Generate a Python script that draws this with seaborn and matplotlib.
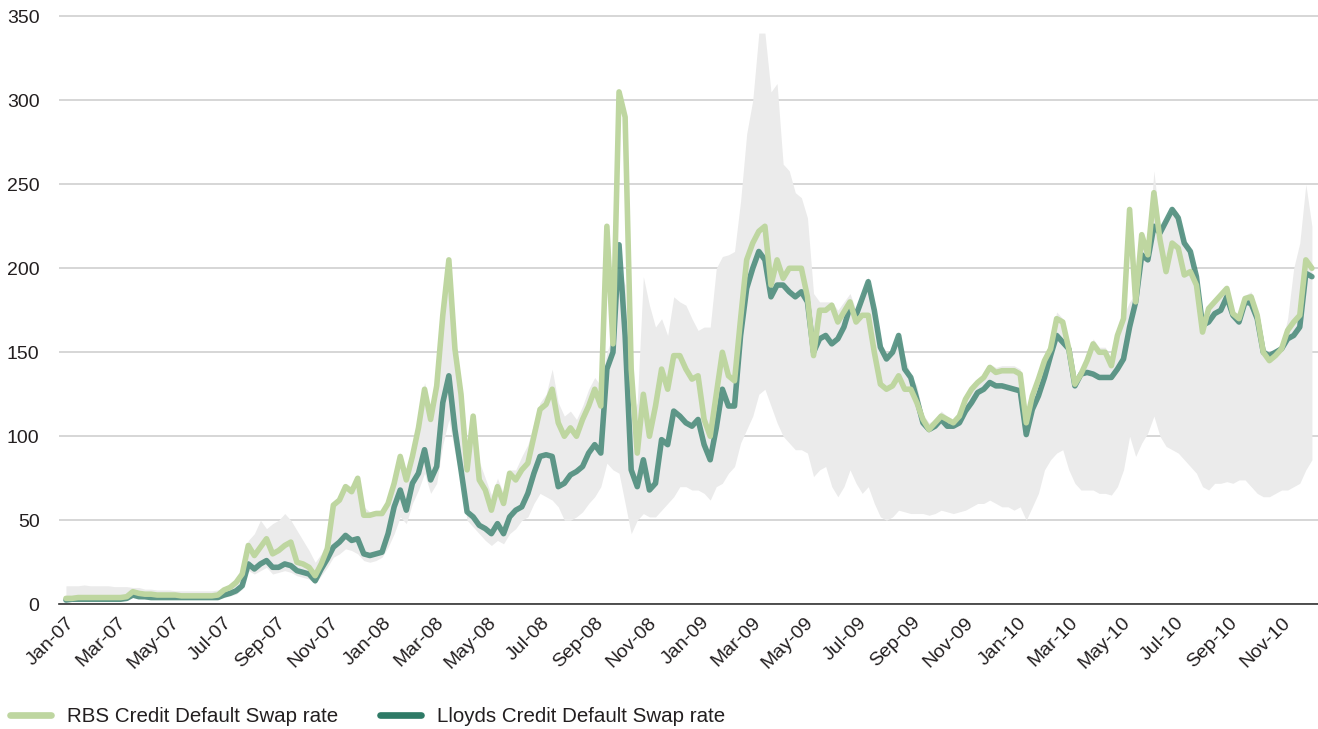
import pandas as pd
import matplotlib
matplotlib.use('Agg')
import matplotlib.pyplot as plt
import matplotlib.dates as mdates
from matplotlib.lines import Line2D
import seaborn as sns

# weekly observations, Jan 2007 - Dec 2010
weeks = pd.date_range('2007-01-01', periods=206, freq='7D')

rbs_name = 'RBS Credit Default Swap rate'
lloyds_name = 'Lloyds Credit Default Swap rate'

rbs = [3.5, 3.5, 4, 4, 4, 4, 4, 4, 4, 4, 4.5, 7.5, 6.5, 6, 6, 5.5, 5.5, 5.5, 5.5, 5, 5, 5, 5, 5, 5, 5.5,
       8.5, 10, 13, 18, 35, 29, 34, 39, 30, 32, 35, 37, 25, 24, 22, 17, 24, 33, 59, 62, 70, 67, 75, 53, 53, 54, 54,
       60, 72, 88, 74, 88, 105, 128, 110, 130, 172, 205, 152, 125, 80, 112, 74, 68, 56, 70, 60, 78, 74, 80, 84,
       100, 116, 119, 128, 108, 100,
       105, 100, 110, 118, 128, 118, 225, 155, 305, 290, 140, 90, 125, 100, 118, 140, 128, 148, 148, 140, 134,
       136, 110, 100, 125, 150, 136, 133, 170, 205,
       215, 222, 225, 190, 205, 194, 200, 200, 200, 183, 148, 175, 175, 178, 168, 174, 180, 168, 172, 172, 150,
       131, 128, 130, 136, 128, 128, 120,
       110, 104, 108, 112, 110, 108, 112, 122, 128, 132, 135, 141, 138, 139, 139, 139, 137, 108, 124, 134, 145,
       152, 170, 168, 152, 131,
       137, 145, 155, 150, 150, 142, 160, 170, 235, 180, 220, 208, 245, 217, 198, 215, 212, 196, 198, 190, 162,
       176, 180, 184, 188, 173, 170, 182, 183, 172, 150, 145, 148, 152, 163, 168, 172, 205, 200]

lloyds = [2.5, 3, 3, 3, 3, 3, 3, 3, 3, 3, 3.5, 5.5, 4.5, 4.5, 4, 4, 4, 4, 4, 4, 4, 4, 4, 4, 4, 4,
          5.5, 6.5, 8, 11, 24, 21, 24, 26, 22, 22, 24, 23, 20, 19, 18, 14, 21, 27, 34, 37, 41, 38, 39, 30, 29, 30, 31,
          42, 58, 68, 56, 72, 78, 92, 74, 82, 120, 136, 104, 80, 55, 52, 47, 45, 42, 48, 42, 52, 56, 58, 66, 78,
          88, 89, 88, 70, 72,
          77, 79, 82, 90, 95, 90, 140, 150, 214, 160, 80, 70, 86, 68, 72, 98, 95, 115, 112, 108, 106, 110, 95, 86,
          105, 128, 118, 118, 160, 188,
          200, 210, 205, 183, 190, 190, 186, 183, 186, 180, 150, 158, 160, 155, 158, 165, 177, 172, 182, 192, 175,
          153, 146, 150, 160, 140, 135, 122,
          108, 104, 106, 110, 106, 106, 108, 115, 120, 126, 128, 132, 130, 130, 129, 128, 127, 101, 116, 124, 135,
          148, 160, 156, 152, 130,
          137, 138, 137, 135, 135, 135, 140, 146, 165, 180, 208, 205, 225, 221, 228, 235, 230, 215, 210, 195, 166,
          168, 173, 175, 183, 172, 168, 180, 179, 170, 150, 148, 150, 152, 158, 160, 165, 197, 195]

# grey range of the other banks
band_low = [2, 2, 2, 2, 2, 2, 2, 2, 2, 2, 2.5, 4, 3.5, 3, 3, 3, 3, 3, 3, 3, 3, 3, 3, 3, 3, 3,
            4, 5, 6, 9, 20, 18, 20, 22, 18, 19, 20, 19, 17, 16, 15, 12, 17, 22, 28, 30, 33, 32, 30, 26, 25, 26, 28,
            34, 42, 52, 48, 60, 68, 78, 66, 72, 95, 110, 90, 72, 50, 46, 42, 38, 35, 38, 36, 42, 45, 50, 52, 60,
            66, 64, 62, 58, 50,
            50, 52, 55, 60, 64, 70, 84, 80, 78, 60, 42, 50, 54, 52, 52, 56, 60, 64, 70, 70, 68, 68, 66, 62, 70, 72,
            78, 82, 96, 104,
            112, 125, 128, 118, 108, 100, 96, 92, 92, 90, 76, 80, 82, 70, 64, 70, 80, 72, 66, 70, 60, 52, 50, 52,
            56, 55, 54, 54,
            54, 53, 54, 56, 55, 54, 55, 56, 58, 60, 60, 62, 60, 58, 58, 56, 58, 50, 58, 66, 80, 86, 90, 92, 80, 72,
            68, 68, 68, 66, 66, 65, 70, 80, 100, 88, 96, 102, 112, 100, 94, 92, 90, 86, 82, 78, 70, 68, 72, 72, 73,
            72, 74, 74, 70, 66, 64, 64, 66, 68, 68, 70, 72, 80, 86]

band_high = [11, 11, 11, 11.5, 11, 11, 11, 11, 10.5, 10.5, 10.5, 10, 10, 9, 9, 8.5, 8.5, 8.5, 8, 8, 8, 8, 8, 8, 8, 8.5,
             10, 12, 15, 20, 38, 42, 50, 45, 48, 50, 54, 50, 44, 38, 32, 25, 30, 38, 60, 65, 72, 70, 76, 58, 55, 56, 56,
             62, 75, 90, 78, 92, 110, 132, 115, 132, 170, 195, 150, 125, 90, 110, 85, 75, 65, 75, 66, 80, 80, 88,
             95, 108, 120, 125, 140, 120, 112,
             115, 110, 118, 128, 135, 130, 150, 160, 200, 190, 110, 120, 195, 178, 165, 170, 160, 183, 180, 178, 170,
             163, 165, 165, 200, 207, 208, 210, 240, 280,
             300, 340, 340, 305, 310, 262, 258, 245, 242, 230, 185, 180, 180, 180, 175, 180, 185, 175, 185, 195, 178,
             156, 150, 152, 162, 148, 136, 130,
             113, 108, 110, 115, 112, 110, 114, 124, 130, 134, 137, 143, 141, 142, 142, 142, 140, 112, 127, 137, 148,
             156, 174, 170, 156, 134,
             140, 148, 158, 153, 153, 146, 163, 172, 180, 185, 222, 210, 258, 225, 230, 237, 233, 218, 212, 197, 168,
             178, 182, 186, 190, 175, 172, 184, 186, 174, 153, 150, 152, 155, 170, 200, 215, 250, 225]

rbs_col = '#bed6a0'
lloyds_col = '#2e7a66'

df = pd.DataFrame({'date': weeks, 'RBS': rbs, 'Lloyds': lloyds})

sns.set_style('white')
plt.rcParams['font.family'] = ['Liberation Sans', 'DejaVu Sans']
text_col = '#231f20'

fig = plt.figure(figsize=(13.18, 7.29), dpi=100)
ax = fig.add_axes([59 / 1318, 0.1711, 1 - 59 / 1318, 0.9823 - 0.1711])

ax.fill_between(weeks, band_low, band_high, color='#ebebeb', lw=0, zorder=1)
sns.lineplot(data=df, x='date', y='Lloyds', color=lloyds_col, alpha=0.75, linewidth=4.0, ax=ax, zorder=3)
sns.lineplot(data=df, x='date', y='RBS', color=rbs_col, linewidth=4.0, ax=ax, zorder=4)

ax.set_xlim(pd.Timestamp('2006-12-24'), pd.Timestamp('2010-12-13'))
ax.set_ylim(0, 352)
ax.set_yticks(range(0, 351, 50))
ax.yaxis.grid(True, color='#cccccc', lw=1.1, zorder=0)
ax.set_axisbelow(True)
ax.set_xlabel('')
ax.set_ylabel('')

for s in ['left', 'top', 'right']:
    ax.spines[s].set_visible(False)
ax.spines['bottom'].set_color('#333333')
ax.spines['bottom'].set_linewidth(1.2)

ax.xaxis.set_major_locator(mdates.MonthLocator(bymonth=[1, 3, 5, 7, 9, 11]))
ax.xaxis.set_minor_locator(mdates.MonthLocator())
ax.xaxis.set_major_formatter(mdates.DateFormatter('%b-%y'))
ax.tick_params(axis='x', which='both', direction='out', length=4, width=1, color='#333333',
               labelsize=14, labelcolor=text_col, pad=3)
ax.tick_params(axis='y', length=0, labelsize=14, labelcolor=text_col, pad=14)
plt.setp(ax.get_xticklabels(), rotation=45, ha='right', rotation_mode='anchor')

handles = [Line2D([0], [0], color=rbs_col, lw=4.8, solid_capstyle='round'),
           Line2D([0], [0], color=lloyds_col, lw=4.8, solid_capstyle='round')]
fig.legend(handles, [rbs_name, lloyds_name], loc='center left', bbox_to_anchor=(0.0, 1 - 717 / 729),
           ncol=2, frameon=False, fontsize=14.8, handlelength=2.0, handletextpad=0.78,
           columnspacing=2.0, borderpad=0, labelcolor=text_col)

fig.savefig('out.png', dpi=100)
